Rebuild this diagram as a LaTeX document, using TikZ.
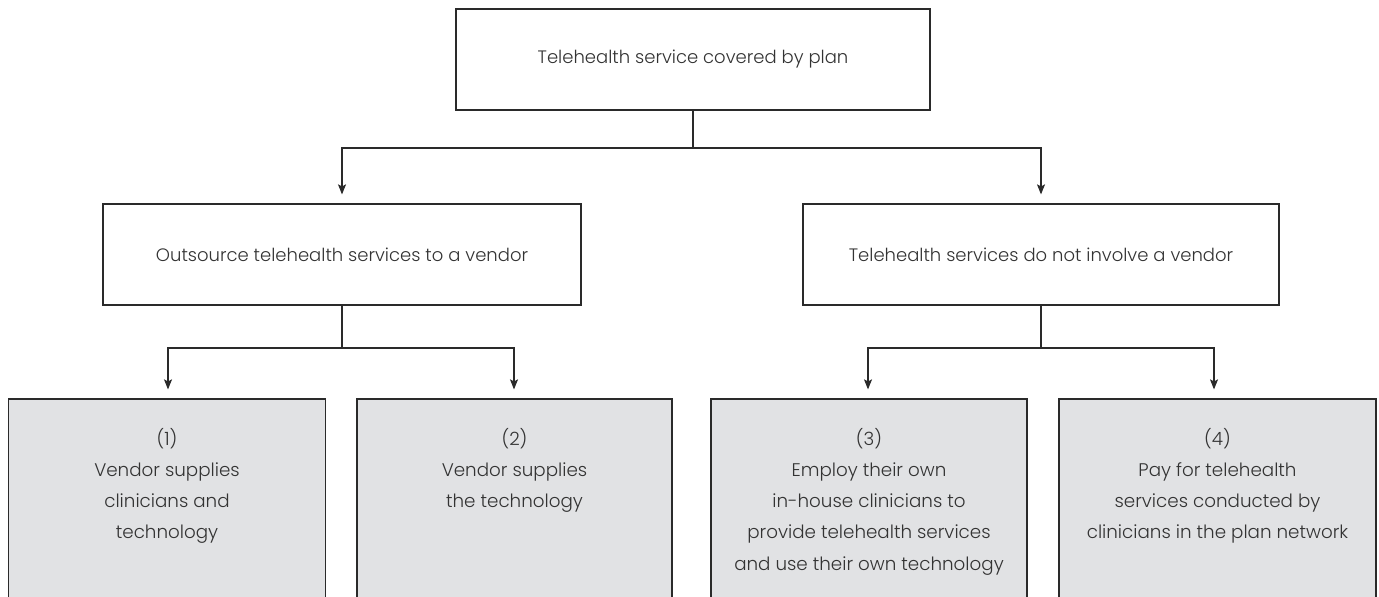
\documentclass[tikz,border=0pt]{standalone}
\usepackage{fontspec}
\setmainfont{Poppins Light}
\usetikzlibrary{arrows.meta}
\definecolor{ink}{HTML}{2A2A2A}
\definecolor{txt}{HTML}{333333}
\definecolor{boxfill}{HTML}{E1E2E4}
\tikzset{
  plainbox/.style={draw=ink, line width=1.2pt, fill=white, minimum height=101pt, inner sep=0pt, text=txt, font=\fontsize{18}{31}\selectfont},
  greybox/.style={draw=ink, line width=1.2pt, fill=boxfill, minimum height=201pt, inner sep=0pt},
  boxtext/.style={anchor=north, align=center, inner sep=0pt, text=txt, font=\fontsize{18.3}{31.2}\selectfont},
  conn/.style={draw=ink, line width=1.1pt},
  arr/.style={conn, -{Stealth[length=10pt,width=8pt,inset=2pt]}, shorten >=9pt}
}
\begin{document}
\begin{tikzpicture}[x=1pt,y=-1pt]
\useasboundingbox (0,0) rectangle (1379,597);
\node[plainbox, minimum width=474pt] (top) at (693,59.5) {Telehealth service covered by plan};
\node[plainbox, minimum width=478pt] (out) at (342,254.5) {Outsource telehealth services to a vendor};
\node[plainbox, minimum width=476pt] (nov) at (1041,254.5) {Telehealth services do not involve a vendor};
\node[greybox, minimum width=317pt] (b1) at (167,499.5) {};
\node[greybox, minimum width=315pt] (b2) at (514.5,499.5) {};
\node[greybox, minimum width=316pt] (b3) at (869,499.5) {};
\node[greybox, minimum width=317pt] (b4) at (1217.5,499.5) {};
\node[boxtext] (t1) at (167,428) {(1)\\Vendor supplies\\clinicians and\\technology};
\node[boxtext] (t2) at (514.5,428) {(2)\\Vendor supplies\\the technology};
\node[boxtext] (t3) at (869,428) {(3)\\Employ their own\\in-house clinicians to\\provide telehealth services\\and use their own technology};
\node[boxtext] (t4) at (1217.5,428) {(4)\\Pay for telehealth\\services conducted by\\clinicians in the plan network};
\coordinate (j0) at (693,148);
\coordinate (j1) at (342,348);
\coordinate (j2) at (1041,348);
\draw[conn] (top.south) -- (j0);
\draw[arr] (j0) -| (out.north);
\draw[arr] (j0) -| (nov.north);
\draw[conn] (out.south) -- (j1);
\draw[arr] (j1) -| ([xshift=1pt]b1.north);
\draw[arr] (j1) -| ([xshift=-0.5pt]b2.north);
\draw[conn] (nov.south) -- (j2);
\draw[arr] (j2) -| ([xshift=-1pt]b3.north);
\draw[arr] (j2) -| ([xshift=-3.5pt]b4.north);
\end{tikzpicture}
\end{document}
